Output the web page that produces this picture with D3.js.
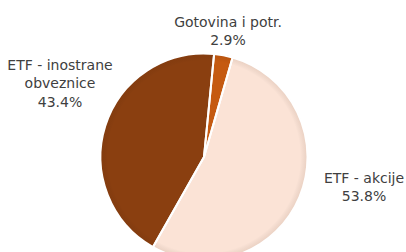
<!DOCTYPE html>
<html><head><meta charset="utf-8">
<script src="https://cdn.jsdelivr.net/npm/d3@7"></script>
<style>body{margin:0;background:#fff}svg{display:block}</style>
</head><body>
<script>
const categories = ["Gotovina i potr.", "ETF - akcije", "ETF - inostrane obveznice"];
const values = [2.9, 53.8, 43.4];
const colors = ["#C55A11", "#FBE3D6", "#8A3F10"];
const labelLines = [["Gotovina i potr."], ["ETF - akcije"], ["ETF - inostrane", "obveznice"]];

const W = 406, H = 252;
const cx = 204, cy = 157, R = 103.5;
const svg = d3.select("body").append("svg").attr("width", W).attr("height", H);

const defs = svg.append("defs");
const grad = defs.append("radialGradient").attr("id","rim")
  .attr("gradientUnits","userSpaceOnUse").attr("cx",0).attr("cy",0).attr("r",R);
grad.append("stop").attr("offset","0.93").attr("stop-color","#000").attr("stop-opacity",0);
grad.append("stop").attr("offset","1").attr("stop-color","#5a2a08").attr("stop-opacity",0.1);

const pie = d3.pie().sort(null).value(d => d)
  .startAngle(5.6 * Math.PI / 180).endAngle(5.6 * Math.PI / 180 + 2 * Math.PI);
const arcs = pie(values);
const arc = d3.arc().innerRadius(0).outerRadius(R);

const g = svg.append("g").attr("transform", `translate(${cx},${cy})`);
g.selectAll("path.s").data(arcs).join("path").attr("class","s")
  .attr("d", arc).attr("fill", (d,i) => colors[i]);
g.selectAll("path.r").data(arcs).join("path").attr("class","r")
  .attr("d", arc).attr("fill", "url(#rim)");
g.selectAll("path.b").data(arcs).join("path").attr("class","b")
  .attr("d", arc).attr("fill", "none").attr("stroke", "#fff").attr("stroke-width", 2).attr("stroke-linejoin","round");

// label positions (anchor center x, first baseline y)
const labelPos = [[228, 27], [364, 183], [60, 70]];
const fmt = d3.format(".1f");
const lh = 18.3;
labelPos.forEach((p, i) => {
  const t = svg.append("text").attr("text-anchor","middle")
    .attr("font-family","'DejaVu Sans', sans-serif").attr("font-size", 14)
    .attr("fill","#404040");
  const lines = labelLines[i].concat([fmt(values[i]) + "%"]);
  lines.forEach((s, k) => t.append("tspan").attr("x", p[0]).attr("y", p[1] + k * lh).text(s));
});
</script>
</body></html>
